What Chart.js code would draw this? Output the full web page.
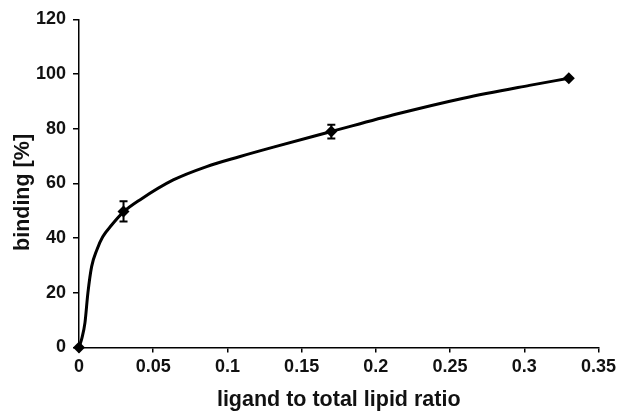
<!DOCTYPE html>
<html>
<head>
<meta charset="utf-8">
<script src="https://cdn.jsdelivr.net/npm/chart.js@4/dist/chart.umd.min.js"></script>
<style>
  html, body { margin: 0; padding: 0; background: #fff; }
  #wrap { width: 620px; height: 414px; }
</style>
</head>
<body>
<div id="wrap"><canvas id="myChart" width="620" height="414"></canvas></div>
<script>
// measured points
var ratio = [0, 0.03, 0.17, 0.33];
var binding = [0, 49.8, 79, 98.5];
var bindingErr = [0, 3.7, 2.5, 0];

// fitted curve
var fitRatio = [0, 0.002, 0.004, 0.006, 0.0085, 0.012, 0.016, 0.022, 0.03, 0.041, 0.0635, 0.086, 0.108, 0.131, 0.17, 0.214, 0.259, 0.3035, 0.33];
var fitBinding = [0, 3.5, 9, 20, 29.6, 35.7, 40.5, 44.8, 49.6, 54, 61.3, 66.2, 69.8, 73.3, 79, 85.4, 91.2, 95.9, 98.5];

var xTicks = [0, 0.05, 0.1, 0.15, 0.2, 0.25, 0.3, 0.35];
var yTicks = [0, 20, 40, 60, 80, 100, 120];

var pts = [];
for (var i = 0; i < ratio.length; i++) pts.push({x: ratio[i], y: binding[i]});
var fit = [];
for (var j = 0; j < fitRatio.length; j++) fit.push({x: fitRatio[j], y: fitBinding[j]});

var errorBars = {
  id: 'errorBars',
  afterDatasetsDraw: function(chart) {
    var ctx = chart.ctx, xs = chart.scales.x, ys = chart.scales.y;
    ctx.save();
    ctx.strokeStyle = '#000';
    ctx.lineWidth = 2;
    for (var i = 0; i < ratio.length; i++) {
      if (!bindingErr[i]) continue;
      var px = xs.getPixelForValue(ratio[i]);
      var top = ys.getPixelForValue(binding[i] + bindingErr[i]);
      var bot = ys.getPixelForValue(binding[i] - bindingErr[i]);
      ctx.beginPath();
      ctx.moveTo(px, top); ctx.lineTo(px, bot);
      ctx.moveTo(px - 4, top); ctx.lineTo(px + 4, top);
      ctx.moveTo(px - 4, bot); ctx.lineTo(px + 4, bot);
      ctx.stroke();
    }
    ctx.restore();
  }
};

var tickFont = {family: 'Liberation Sans, Arial, sans-serif', size: 18, weight: 'bold'};
var titleFont = {family: 'Liberation Sans, Arial, sans-serif', size: 21.5, weight: 'bold'};

new Chart(document.getElementById('myChart').getContext('2d'), {
  type: 'scatter',
  data: {
    datasets: [
      {
        label: 'fit',
        data: fit,
        showLine: true,
        borderColor: '#000',
        borderWidth: 3,
        pointRadius: 0,
        cubicInterpolationMode: 'monotone'
      },
      {
        label: 'binding',
        data: pts,
        showLine: false,
        clip: false,
        pointStyle: 'rectRot',
        pointRadius: 6,
        backgroundColor: '#000',
        borderColor: '#000',
        borderWidth: 0
      }
    ]
  },
  options: {
    responsive: false,
    animation: false,
    layout: {padding: {top: 19.5, right: 20.7, bottom: 0, left: 0}},
    plugins: {legend: {display: false}, tooltip: {enabled: false}},
    scales: {
      x: {
        type: 'linear',
        min: 0, max: 0.35,
        afterBuildTicks: function(s) { s.ticks = xTicks.map(function(v) { return {value: v}; }); },
        afterFit: function(s) { s.height = 66.5; },
        border: {color: '#000', width: 1.5},
        grid: {drawOnChartArea: false, color: '#000', lineWidth: 1.5, tickLength: 5},
        ticks: {color: '#111', font: tickFont, padding: 4, maxRotation: 0,
          callback: function(v) { return String(v); }},
        title: {display: true, text: 'ligand to total lipid ratio', color: '#111', font: titleFont,
          padding: {top: 0, bottom: 1}}
      },
      y: {
        min: 0, max: 120,
        afterBuildTicks: function(s) { s.ticks = yTicks.map(function(v) { return {value: v}; }); },
        afterFit: function(s) { s.width = 79; },
        border: {color: '#000', width: 1.5},
        grid: {drawOnChartArea: false, color: '#000', lineWidth: 1.5, tickLength: 6},
        ticks: {color: '#111', font: tickFont, padding: 7,
          callback: function(v) { return String(v); }},
        title: {display: true, text: 'binding [%]   ', color: '#111', font: titleFont,
          padding: {top: 10, bottom: 0}}
      }
    }
  },
  plugins: [errorBars]
});
</script>
</body>
</html>
